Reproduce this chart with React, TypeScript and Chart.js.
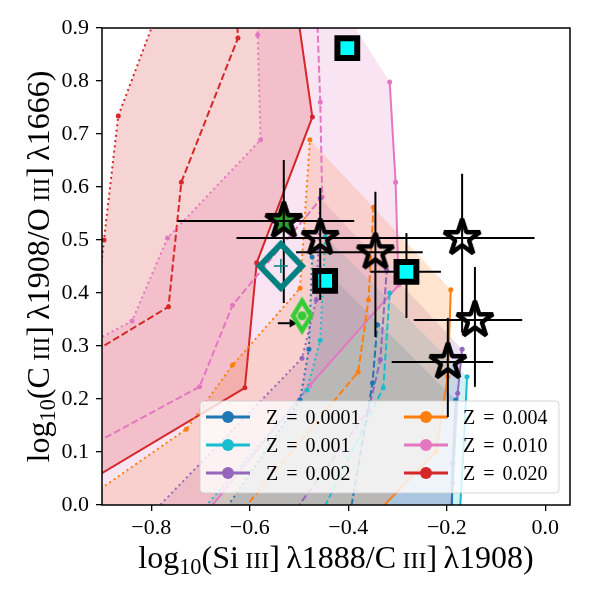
import React, { useEffect, useRef } from 'react';
import { Chart, registerables } from 'chart.js';

Chart.register(...registerables);

type Pt = [number, number];

// ---------------- axes ----------------
const X_MIN = -0.9;
const X_MAX = 0.05;
const Y_MIN = 0;
const Y_MAX = 0.9;
const xTicks = [-0.8, -0.6, -0.4, -0.2, 0.0];
const yTicks = [0.0, 0.1, 0.2, 0.3, 0.4, 0.5, 0.6, 0.7, 0.8, 0.9];

// ---------------- metallicity grid ----------------
const zLabels = ['0.0001', '0.001', '0.002', '0.004', '0.010', '0.020'];
const zColors = ['#1f77b4', '#17becf', '#9467bd', '#ff7f0e', '#e377c2', '#d62728'];

// Z = 0.0001
const z0001Solid: Pt[] = [[-0.19, -0.02], [-0.188, 0.079], [-0.182, 0.198]];
const z0001Dashed: Pt[] = [[-0.397, -0.02], [-0.351, 0.23], [-0.341, 0.34]];
const z0001Dotted: Pt[] = [[-0.657, -0.019], [-0.498, 0.198], [-0.48, 0.294], [-0.4735, 0.468]];
const z0001Region: Pt[] = [[-0.69, -0.05], [-0.657, -0.019], [-0.498, 0.198], [-0.48, 0.294], [-0.4735, 0.468], [-0.182, 0.198], [-0.188, 0.079], [-0.19, -0.05]];

// Z = 0.001
const z001Solid: Pt[] = [[-0.174, -0.02], [-0.165, 0.123], [-0.159, 0.242]];
const z001Dashed: Pt[] = [[-0.457, -0.02], [-0.329, 0.221], [-0.316, 0.4]];
const z001Dotted: Pt[] = [[-0.712, -0.026], [-0.484, 0.217], [-0.457, 0.311], [-0.447, 0.506]];
const z001Region: Pt[] = [[-0.74, -0.05], [-0.712, -0.026], [-0.484, 0.217], [-0.457, 0.311], [-0.447, 0.506], [-0.159, 0.242], [-0.165, 0.123], [-0.174, -0.05]];

// Z = 0.002
const z002Solid: Pt[] = [[-0.192, -0.02], [-0.188, 0.042], [-0.178, 0.211], [-0.169, 0.294]];
const z002Dashed: Pt[] = [[-0.518, -0.023], [-0.359, 0.179], [-0.335, 0.274], [-0.322, 0.443]];
const z002Dotted: Pt[] = [[-0.804, -0.021], [-0.494, 0.277], [-0.465, 0.387], [-0.457, 0.579]];
const z002Region: Pt[] = [[-0.83, -0.05], [-0.804, -0.021], [-0.494, 0.277], [-0.465, 0.387], [-0.457, 0.579], [-0.169, 0.294], [-0.178, 0.211], [-0.188, 0.042], [-0.192, -0.05]];

// Z = 0.004
const z004Solid: Pt[] = [[-0.376, -0.047], [-0.222, 0.1], [-0.198, 0.242], [-0.192, 0.406]];
const z004Dashed: Pt[] = [[-0.64, -0.038], [-0.38, 0.251], [-0.359, 0.387], [-0.349, 0.562]];
const z004Dotted: Pt[] = [[-0.947, 0.002], [-0.729, 0.143], [-0.635, 0.264], [-0.498, 0.409], [-0.478, 0.689]];
const z004Region: Pt[] = [[-0.96, -0.05], [-0.947, 0.002], [-0.729, 0.143], [-0.635, 0.264], [-0.498, 0.409], [-0.478, 0.689], [-0.192, 0.406], [-0.198, 0.242], [-0.222, 0.1], [-0.376, -0.047]];

// Z = 0.010
const z010Solid: Pt[] = [[-0.722, -0.053], [-0.478, 0.226], [-0.298, 0.415], [-0.304, 0.609], [-0.316, 0.798]];
const z010Dashed: Pt[] = [[-0.947, 0.1], [-0.702, 0.223], [-0.635, 0.377], [-0.453, 0.581], [-0.457, 0.76], [-0.465, 0.97]];
const z010Dotted: Pt[] = [[-0.947, 0.294], [-0.839, 0.347], [-0.767, 0.504], [-0.578, 0.689], [-0.584, 0.887], [-0.586, 0.97]];
const z010Region: Pt[] = [[-0.96, -0.06], [-0.96, 0.29], [-0.947, 0.294], [-0.839, 0.347], [-0.767, 0.504], [-0.578, 0.689], [-0.584, 0.887], [-0.586, 0.97], [-0.435, 0.972], [-0.316, 0.798], [-0.304, 0.609], [-0.298, 0.415], [-0.478, 0.226], [-0.722, -0.053]];

// Z = 0.020
const z020Solid: Pt[] = [[-0.947, 0.034], [-0.61, 0.221], [-0.586, 0.457], [-0.473, 0.732], [-0.51, 0.972]];
const z020Dashed: Pt[] = [[-0.947, 0.272], [-0.765, 0.374], [-0.739, 0.609], [-0.624, 0.881], [-0.63, 0.99]];
const z020Dotted: Pt[] = [[-0.933, 0.198], [-0.896, 0.5], [-0.867, 0.734], [-0.763, 0.99]];
const z020Region: Pt[] = [[-0.96, 0.03], [-0.96, 0.2], [-0.933, 0.198], [-0.896, 0.5], [-0.867, 0.734], [-0.763, 0.99], [-0.51, 0.972], [-0.473, 0.732], [-0.586, 0.457], [-0.61, 0.221], [-0.947, 0.034]];

const tracks = [
  { solid: z0001Solid, dashed: z0001Dashed, dotted: z0001Dotted, region: z0001Region },
  { solid: z001Solid, dashed: z001Dashed, dotted: z001Dotted, region: z001Region },
  { solid: z002Solid, dashed: z002Dashed, dotted: z002Dotted, region: z002Region },
  { solid: z004Solid, dashed: z004Dashed, dotted: z004Dotted, region: z004Region },
  { solid: z010Solid, dashed: z010Dashed, dotted: z010Dotted, region: z010Region },
  { solid: z020Solid, dashed: z020Dashed, dotted: z020Dotted, region: z020Region },
];

// ---------------- observations ----------------
// open stars
const starX = [-0.457, -0.345, -0.169, -0.143, -0.198];
const starY = [0.504, 0.477, 0.504, 0.349, 0.27];
const starXLo = [-0.627, -0.506, -0.314, -0.267, -0.312];
const starXHi = [-0.284, -0.249, -0.022, -0.047, -0.106];
const starYLo = [0.387, 0.317, 0.325, 0.223, 0.166];
const starYHi = [0.598, 0.591, 0.625, 0.449, 0.353];

// filled green star
const gStarX = [-0.531];
const gStarY = [0.536];
const gStarXLo = [-0.747];
const gStarXHi = [-0.388];
const gStarYLo = [0.381];
const gStarYHi = [0.651];

// cyan squares
const sqX = [-0.402, -0.447, -0.282];
const sqY = [0.862, 0.423, 0.44];
const sqXLo = [null, null, -0.355];
const sqXHi = [null, null, -0.212];
const sqYLo = [null, null, 0.353];
const sqYHi = [null, null, 0.513];

// teal diamond
const tealX = [-0.537];
const tealY = [0.451];

// lime thin diamond with lower-limit arrow
const limeX = [-0.494];
const limeY = [0.357];
const arrowX = [-0.543, -0.514];
const arrowY = [0.343, 0.343];

const FONT = "'Liberation Serif', 'DejaVu Serif', serif";

function rgba(hex: string, a: number) {
  const n = parseInt(hex.slice(1), 16);
  return `rgba(${(n >> 16) & 255},${(n >> 8) & 255},${n & 255},${a})`;
}

function makeStar(R: number, lw: number, fill: string | null) {
  const size = Math.ceil(2 * (R + lw * 2));
  const c = document.createElement('canvas');
  c.width = size;
  c.height = size;
  const g = c.getContext('2d')!;
  g.translate(size / 2, size / 2);
  g.beginPath();
  for (let k = 0; k < 10; k++) {
    const a = -Math.PI / 2 + (k * Math.PI) / 5;
    const r = k % 2 === 0 ? R : R * 0.381966;
    const px = r * Math.cos(a);
    const py = r * Math.sin(a);
    if (k === 0) g.moveTo(px, py);
    else g.lineTo(px, py);
  }
  g.closePath();
  if (fill) {
    g.fillStyle = fill;
    g.fill();
  }
  g.lineJoin = 'bevel';
  g.lineWidth = lw;
  g.strokeStyle = '#000';
  g.stroke();
  return c;
}

function makeDiamond(hw: number, hh: number, lw: number, color: string, dotR: number) {
  const size = Math.ceil(2 * (Math.max(hw, hh) + lw * 3));
  const c = document.createElement('canvas');
  c.width = size;
  c.height = size;
  const g = c.getContext('2d')!;
  g.translate(size / 2, size / 2);
  g.beginPath();
  g.moveTo(0, -hh);
  g.lineTo(hw, 0);
  g.lineTo(0, hh);
  g.lineTo(-hw, 0);
  g.closePath();
  g.lineJoin = 'miter';
  g.miterLimit = 10;
  g.lineWidth = lw;
  g.strokeStyle = color;
  g.stroke();
  if (dotR > 0) {
    g.beginPath();
    g.arc(0, 0, dotR, 0, Math.PI * 2);
    g.fillStyle = color;
    g.fill();
  }
  return c;
}

const toXY = (pts: Pt[]) => pts.map(([x, y]) => ({ x, y }));

type Seg = { t: string; s: number; dy?: number };
const xTitle: Seg[] = [
  { t: 'log', s: 1 }, { t: '10', s: 0.7, dy: 0.2 }, { t: '(Si', s: 1 }, { t: '\u2009', s: 1 },
  { t: 'III', s: 0.75 }, { t: ']\u2009', s: 1 }, { t: '\u03bb1888/C', s: 1 }, { t: '\u2009', s: 1 },
  { t: 'III', s: 0.75 }, { t: ']\u2009', s: 1 }, { t: '\u03bb1908)', s: 1 },
];
const yTitle: Seg[] = [
  { t: 'log', s: 1 }, { t: '10', s: 0.7, dy: 0.2 }, { t: '(C', s: 1 }, { t: '\u2009', s: 1 },
  { t: 'III', s: 0.75 }, { t: ']\u2009', s: 1 }, { t: '\u03bb1908/O', s: 1 }, { t: '\u2009', s: 1 },
  { t: 'III', s: 0.75 }, { t: ']\u2009', s: 1 }, { t: '\u03bb1666)', s: 1 },
];

function drawRich(ctx: CanvasRenderingContext2D, segs: Seg[], size: number) {
  let total = 0;
  const parts = segs.map((s) => {
    const fs = size * s.s;
    ctx.font = `${fs}px ${FONT}`;
    const w = ctx.measureText(s.t).width;
    total += w;
    return { ...s, fs, w };
  });
  let x = -total / 2;
  ctx.textAlign = 'left';
  ctx.textBaseline = 'alphabetic';
  ctx.fillStyle = '#000';
  for (const p of parts) {
    ctx.font = `${p.fs}px ${FONT}`;
    ctx.fillText(p.t, x, (p.dy || 0) * size);
    x += p.w;
  }
}

function drawLegend(chart: any) {
  const { ctx, chartArea: ca } = chart;
  const L = ca.left + 98;
  const T = ca.bottom - 104;
  const R = ca.right - 11;
  const B = ca.bottom - 12;
  const r = 4;
  ctx.save();
  ctx.beginPath();
  ctx.moveTo(L + r, T);
  ctx.lineTo(R - r, T);
  ctx.quadraticCurveTo(R, T, R, T + r);
  ctx.lineTo(R, B - r);
  ctx.quadraticCurveTo(R, B, R - r, B);
  ctx.lineTo(L + r, B);
  ctx.quadraticCurveTo(L, B, L, B - r);
  ctx.lineTo(L, T + r);
  ctx.quadraticCurveTo(L, T, L + r, T);
  ctx.closePath();
  ctx.fillStyle = 'rgba(255,255,255,0.8)';
  ctx.fill();
  ctx.strokeStyle = 'rgba(204,204,204,0.8)';
  ctx.lineWidth = 1;
  ctx.stroke();

  ctx.font = `20px ${FONT}`;
  ctx.textAlign = 'left';
  ctx.textBaseline = 'alphabetic';
  zLabels.forEach((lab, i) => {
    const col = Math.floor(i / 3);
    const row = i % 3;
    const hx0 = L + 6 + col * 198;
    const cy = T + 16 + row * 28;
    ctx.strokeStyle = zColors[i];
    ctx.lineWidth = 3;
    ctx.beginPath();
    ctx.moveTo(hx0, cy);
    ctx.lineTo(hx0 + 44, cy);
    ctx.stroke();
    ctx.beginPath();
    ctx.arc(hx0 + 22, cy, 6, 0, Math.PI * 2);
    ctx.fillStyle = zColors[i];
    ctx.fill();
    const tx = L + 66 + col * 197;
    const by = cy + 6.5;
    ctx.fillStyle = '#000';
    ctx.fillText('Z', tx, by);
    const eqX = tx + ctx.measureText('Z').width + 8;
    ctx.fillText('=', eqX, by);
    const nX = eqX + ctx.measureText('=').width + 8;
    ctx.fillText(lab, nX, by);
  });
  ctx.restore();
}

const overlayPlugin = {
  id: 'overlay',
  beforeDatasetsDraw(chart: any) {
    chart.$legendDone = false;
  },
  beforeDatasetDraw(chart: any, args: any) {
    const ds = chart.data.datasets[args.index];
    if (ds && ds.legendBelow && !chart.$legendDone) {
      drawLegend(chart);
      chart.$legendDone = true;
    }
  },
  afterDatasetsDraw(chart: any) {
    if (!chart.$legendDone) {
      drawLegend(chart);
      chart.$legendDone = true;
    }
    const { ctx, chartArea: ca } = chart;
    ctx.save();
    ctx.strokeStyle = '#000';
    ctx.lineWidth = 1.5;
    ctx.strokeRect(ca.left, ca.top, ca.right - ca.left, ca.bottom - ca.top);
    ctx.restore();
  },
  afterDraw(chart: any) {
    const { ctx, chartArea: ca } = chart;
    ctx.save();
    ctx.translate((ca.left + ca.right) / 2, 568);
    drawRich(ctx, xTitle, 32);
    ctx.restore();
    ctx.save();
    ctx.translate(49, (ca.top + ca.bottom) / 2);
    ctx.rotate(-Math.PI / 2);
    drawRich(ctx, yTitle, 32);
    ctx.restore();
  },
};

function fmt(v: number) {
  const s = Math.abs(v) < 1e-9 ? '0.0' : v.toFixed(1);
  return s.startsWith('-') ? '\u2212' + s.slice(1) : s;
}

export default function App() {
  const ref = useRef<HTMLCanvasElement>(null);

  useEffect(() => {
    const canvas = ref.current;
    if (!canvas) return;

    const openStar = makeStar(19, 4.5, null);
    const greenStar = makeStar(19, 4.5, '#2ca02c');
    const tealDia = makeDiamond(21, 22, 6, '#008080', 0);
    const limeDia = makeDiamond(9, 15, 4.5, '#32cd32', 4.5);

    const datasets: any[] = [];

    // shaded regions
    tracks.forEach((t, i) => {
      datasets.push({
        data: toXY(t.region),
        fill: 'shape',
        backgroundColor: rgba(zColors[i], 0.2),
        borderWidth: 0,
        borderColor: 'rgba(0,0,0,0)',
        pointRadius: 0,
        order: 105 - i,
      });
    });

    // model tracks
    const styles: [keyof typeof tracks[0], number[]][] = [
      ['solid', []],
      ['dashed', [7, 3]],
      ['dotted', [2, 3.3]],
    ];
    tracks.forEach((t, i) => {
      styles.forEach(([k, dash]) => {
        datasets.push({
          data: toXY(t[k] as Pt[]),
          borderColor: zColors[i],
          borderWidth: 2,
          borderDash: dash,
          pointRadius: 2.5,
          pointBackgroundColor: zColors[i],
          pointBorderWidth: 0,
          fill: false,
          order: 90,
        });
      });
    });

    const bar = (x0: number, y0: number, x1: number, y1: number, order: number, legendBelow = false) => ({
      data: [{ x: x0, y: y0 }, { x: x1, y: y1 }],
      borderColor: '#000',
      borderWidth: 2,
      pointRadius: 0,
      fill: false,
      order,
      legendBelow,
    });

    // square error bars
    sqX.forEach((x, i) => {
      const xl = sqXLo[i], xh = sqXHi[i], yl = sqYLo[i], yh = sqYHi[i];
      if (xl !== null && xh !== null) datasets.push(bar(xl, sqY[i], xh, sqY[i], 80));
      if (yl !== null && yh !== null) datasets.push(bar(x, yl, x, yh, 80));
    });

    // squares
    datasets.push({
      data: sqX.map((x, i) => ({ x, y: sqY[i] })),
      showLine: false,
      pointStyle: 'rect',
      pointRadius: 14,
      pointBackgroundColor: '#00ffff',
      pointBorderColor: '#000',
      pointBorderWidth: 6,
      order: 70,
    });

    // stars
    datasets.push({
      data: starX.map((x, i) => ({ x, y: starY[i] })),
      showLine: false,
      pointStyle: openStar,
      pointRadius: 10,
      order: 60,
    });
    datasets.push({
      data: gStarX.map((x, i) => ({ x, y: gStarY[i] })),
      showLine: false,
      pointStyle: greenStar,
      pointRadius: 10,
      order: 60,
    });

    // star error bars (drawn above the legend)
    starX.forEach((x, i) => {
      datasets.push(bar(starXLo[i], starY[i], starXHi[i], starY[i], 50, true));
      datasets.push(bar(x, starYLo[i], x, starYHi[i], 50, true));
    });
    gStarX.forEach((x, i) => {
      datasets.push(bar(gStarXLo[i], gStarY[i], gStarXHi[i], gStarY[i], 50, true));
      datasets.push(bar(x, gStarYLo[i], x, gStarYHi[i], 50, true));
    });

    // teal diamond and its cross
    datasets.push({
      data: tealX.map((x, i) => ({ x, y: tealY[i] })),
      showLine: false,
      pointStyle: tealDia,
      pointRadius: 10,
      order: 40,
    });
    datasets.push({
      data: tealX.map((x, i) => ({ x, y: tealY[i] })),
      showLine: false,
      pointStyle: 'cross',
      pointRadius: 7,
      pointBorderColor: '#008080',
      pointBorderWidth: 1.5,
      order: 40,
    });

    // lime diamond + arrow
    datasets.push({
      data: limeX.map((x, i) => ({ x, y: limeY[i] })),
      showLine: false,
      pointStyle: limeDia,
      pointRadius: 10,
      order: 30,
    });
    datasets.push({
      data: arrowX.map((x, i) => ({ x, y: arrowY[i] })),
      borderColor: '#000',
      borderWidth: 2,
      pointStyle: 'triangle',
      pointRotation: 90,
      pointRadius: [0, 5],
      pointBackgroundColor: '#000',
      pointBorderWidth: 0,
      fill: false,
      order: 30,
    });

    const tickFont = { family: FONT, size: 22 };

    const chart = new Chart(canvas, {
      type: 'line',
      data: { datasets },
      options: {
        animation: false,
        responsive: false,
        devicePixelRatio: 1,
        events: [],
        layout: { padding: { top: 28, right: 30, left: 0, bottom: 0 } },
        plugins: {
          legend: { display: false },
          tooltip: { enabled: false },
        },
        scales: {
          x: {
            type: 'linear',
            min: X_MIN,
            max: X_MAX,
            border: { display: false },
            grid: { display: true, drawOnChartArea: false, drawTicks: true, tickLength: 6, color: '#000', lineWidth: 1.3 },
            ticks: { font: tickFont, color: '#000', padding: 4, maxRotation: 0, autoSkip: false, callback: (v: any) => fmt(Number(v)) },
            afterBuildTicks: (s: any) => {
              s.ticks = xTicks.map((v) => ({ value: v }));
            },
            afterFit: (s: any) => {
              s.height = 95;
            },
          },
          y: {
            type: 'linear',
            min: Y_MIN,
            max: Y_MAX,
            border: { display: false },
            grid: { display: true, drawOnChartArea: false, drawTicks: true, tickLength: 6, color: '#000', lineWidth: 1.3 },
            ticks: { font: tickFont, color: '#000', padding: 7, autoSkip: false, callback: (v: any) => fmt(Number(v)) },
            afterBuildTicks: (s: any) => {
              s.ticks = yTicks.map((v) => ({ value: v }));
            },
            afterFit: (s: any) => {
              s.width = 102;
            },
          },
        },
      } as any,
      plugins: [overlayPlugin as any],
    });

    return () => chart.destroy();
  }, []);

  return (
    <div style={{ position: 'absolute', left: 0, top: 0, width: 600, height: 600, background: '#fff' }}>
      <canvas ref={ref} width={600} height={600} style={{ display: 'block' }} />
    </div>
  );
}
